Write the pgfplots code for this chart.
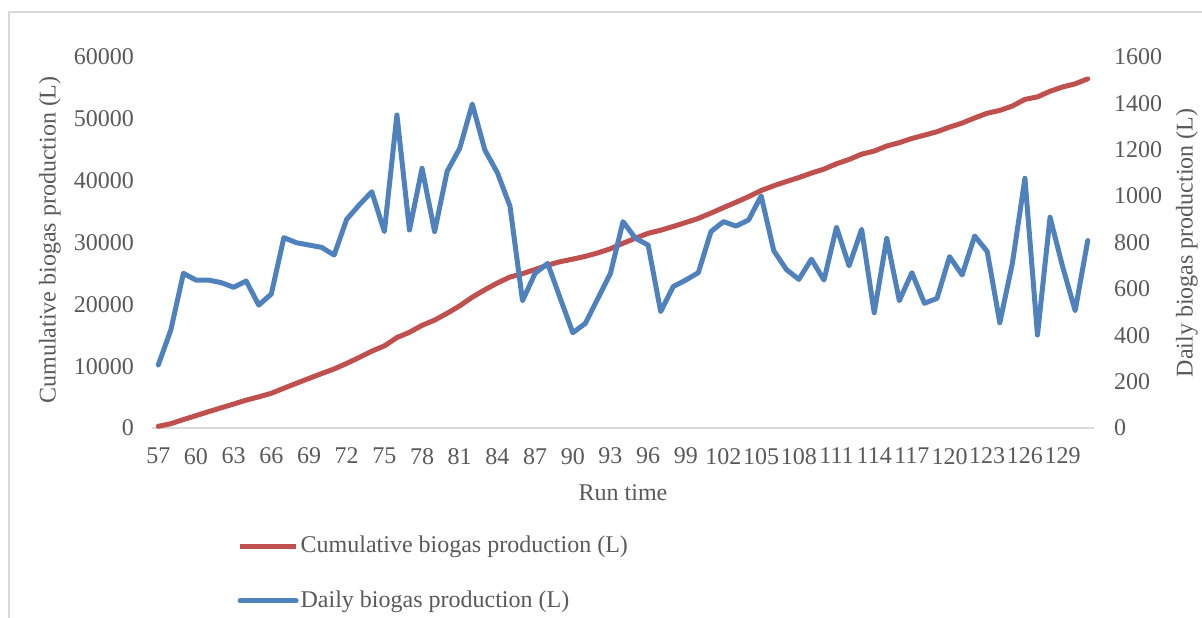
\documentclass[border=0pt]{standalone}
\usepackage{fontspec}
\setmainfont{Liberation Serif}
\usepackage{pgfplots}
\usepackage{pgfplotstable}
\pgfplotsset{compat=1.18}
\definecolor{cumred}{HTML}{C0504D}
\definecolor{dayblue}{HTML}{4F81BD}
\definecolor{txt}{HTML}{595959}
\definecolor{axgray}{HTML}{D9D9D9}

\pgfplotstableread{
x cum daily
57 272 272
58 695 423
59 1362 667
60 2000 638
61 2638 638
62 3265 627
63 3872 607
64 4506 634
65 5036 530
66 5614 578
67 6435 821
68 7234 799
69 8023 789
70 8802 779
71 9548 746
72 10448 900
73 11410 962
74 12429 1019
75 13276 847
76 14626 1350
77 15480 854
78 16600 1120
79 17447 847
80 18554 1107
81 19760 1206
82 21157 1397
83 22356 1199
84 23457 1101
85 24414 957
86 24963 549
87 25630 667
88 26340 710
89 26900 560
90 27311 411
91 27762 451
92 28321 559
93 28988 667
94 29878 890
95 30696 818
96 31485 789
97 31987 502
98 32597 610
99 33235 638
100 33905 670
101 34752 847
102 35642 890
103 36513 871
104 37410 897
105 38411 1001
106 39176 765
107 39860 684
108 40501 641
109 41229 728
110 41867 638
111 42733 866
112 43432 699
113 44289 857
114 44786 497
115 45604 818
116 46153 549
117 46823 670
118 47361 538
119 47920 559
120 48659 739
121 49319 660
122 50147 828
123 50908 761
124 51362 454
125 52072 710
126 53149 1077
127 53550 401
128 54459 909
129 55155 696
130 55661 506
131 56469 808
}\datatable

\pgfplotsset{
  common/.style={
    at={(76pt,94.5pt)}, anchor=south west,
    scale only axis, width=471pt, height=185.5pt,
    xmin=56.5, xmax=131.5, ymin=0,
    xtick={57,60,...,129},
    major tick length=0pt,
    tick label style={font=\fontsize{12}{14}\selectfont, text=txt},
    label style={font=\fontsize{12}{14}\selectfont, text=txt},
    /pgf/number format/assume math mode=true,
    /pgf/number format/1000 sep={},
    scaled y ticks=false,
    clip=false,
  }
}

\begin{document}
\begin{tikzpicture}[x=1pt,y=1pt]
\path[use as bounding box] (0,0) rectangle (601,308.5);
\draw[axgray, line width=0.75pt] (4.6,-5) -- (4.6,302.6) -- (620,302.6);

\begin{axis}[common,
  ymax=60000, ytick={0,10000,...,60000},
  axis x line*=bottom, axis y line*=left,
  x axis line style={-, draw=axgray, line width=0.75pt},
  y axis line style={draw=none},
  xticklabel style={yshift=-6.5pt},
  yticklabel style={xshift=-5.5pt},
  xlabel={Run time},
  xlabel style={at={(axis description cs:0.5,-0.1752)}, anchor=center},
  ylabel={Cumulative biogas production (L)},
  ylabel style={at={(axis description cs:-0.1083,0.5067)}, anchor=center},
]
\addplot[cumred, line width=2.5pt, line join=round, line cap=round, mark=none]
  table[x=x, y=cum]{\datatable};
\end{axis}

\begin{axis}[common,
  ymax=1600, ytick={0,200,...,1600},
  axis x line=none, axis y line*=right,
  y axis line style={draw=none},
  yticklabel style={xshift=6.5pt},
  ylabel={Daily biogas production (L)},
  ylabel style={at={(axis description cs:1.0987,0.4987)}, anchor=center},
  legend image code/.code={\draw[#1] (0pt,0pt) -- (28pt,0pt);},
  legend cell align=left,
  legend style={at={(axis description cs:0.0905,-0.2855)}, anchor=north west,
    draw=none, fill=none, inner sep=0pt, row sep=15.5pt, column sep=1pt,
    font=\fontsize{12}{14}\selectfont, text=txt,
    nodes={inner xsep=0pt, inner ysep=1pt}},
]
\addlegendimage{cumred, line width=2.5pt}
\addlegendentry{Cumulative biogas production (L)}
\addplot[dayblue, line width=2.5pt, line join=round, line cap=round, mark=none]
  table[x=x, y=daily]{\datatable};
\addlegendentry{Daily biogas production (L)}
\end{axis}
\end{tikzpicture}
\end{document}
